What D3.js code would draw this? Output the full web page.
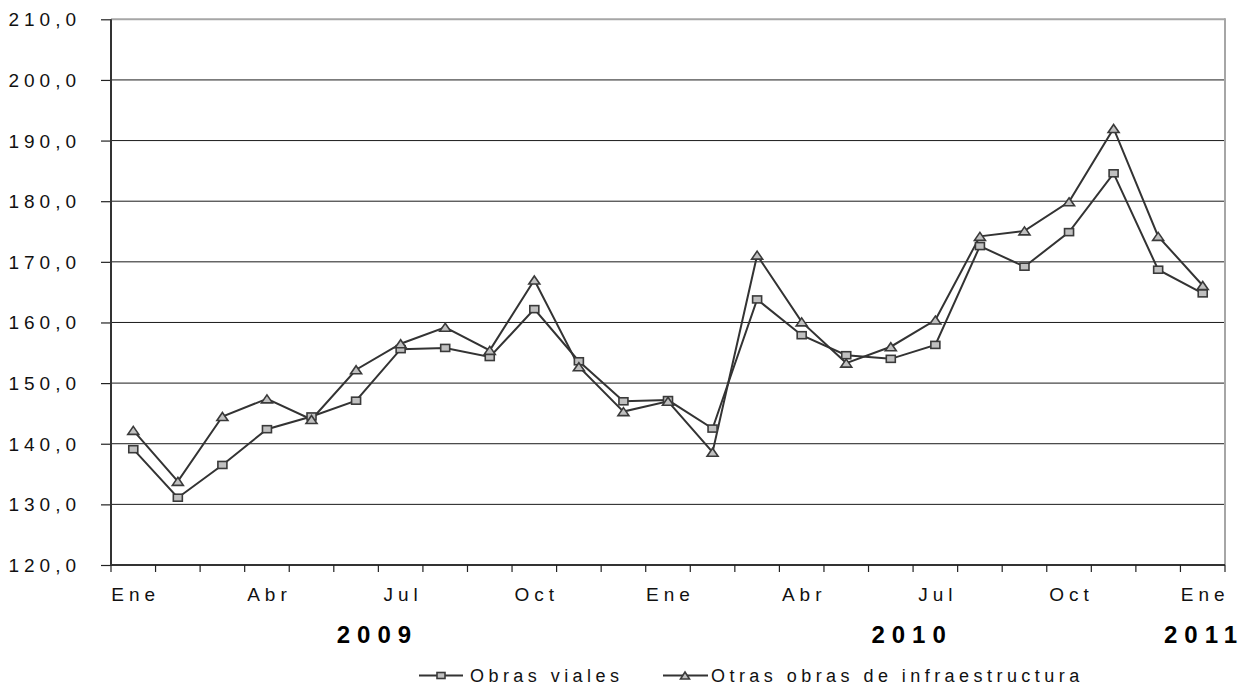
<!DOCTYPE html>
<html><head><meta charset="utf-8">
<script src="https://cdn.jsdelivr.net/npm/d3@7/dist/d3.min.js"></script>
<style>body{margin:0;background:#fff}svg{display:block;font-family:Arial,"Liberation Sans",sans-serif}</style>
</head><body><svg id="c" width="1247" height="689"></svg>
<script>
const months = ["Ene","Feb","Mar","Abr","May","Jun","Jul","Ago","Sep","Oct","Nov","Dic",
                "Ene","Feb","Mar","Abr","May","Jun","Jul","Ago","Sep","Oct","Nov","Dic","Ene"];
const obrasViales = [139.1,131.1,136.5,142.4,144.5,147.1,155.6,155.8,154.3,162.2,153.6,147.0,
                     147.2,142.5,163.8,157.9,154.6,154.0,156.3,172.6,169.2,174.9,184.6,168.7,164.8];
const otrasObras = [142.2,133.8,144.5,147.4,144.0,152.2,156.5,159.2,155.4,167.0,152.7,145.3,
                    147.0,138.6,171.1,160.1,153.3,156.0,160.4,174.2,175.1,179.9,192.0,174.2,166.1];
const yTicks = [120,130,140,150,160,170,180,190,200,210];
const years = [{label:"2009", pos:5.4},{label:"2010", pos:17.4},{label:"2011", pos:23.95}];
const seriesNames = ["Obras viales","Otras obras de infraestructura"];

const svg = d3.select("#c");
const L = 111, R = 1225, T = 19.3, B = 565;
const idx = d3.range(months.length);
const x = d3.scaleBand().domain(idx).range([L, R]);
const y = d3.scaleLinear().domain([120, 210]).range([B, T]);
const cx = i => L + (i + 0.5) * x.step();
const fmt = v => d3.format(".1f")(v).replace(".", ",");

// gridlines
svg.append("g").selectAll("line").data(yTicks.filter(v => v > 120 && v < 210)).join("line")
  .attr("x1", L).attr("x2", R).attr("y1", d => y(d)).attr("y2", d => y(d))
  .attr("stroke", "#1a1a1a").attr("stroke-width", 1);
// top and right border
svg.append("line").attr("x1", L).attr("x2", R).attr("y1", y(210)).attr("y2", y(210))
  .attr("stroke", "#a6a6a6").attr("stroke-width", 2);
svg.append("line").attr("x1", R).attr("x2", R).attr("y1", y(210)-1).attr("y2", B)
  .attr("stroke", "#a6a6a6").attr("stroke-width", 2);

// y axis
const yAxis = d3.axisLeft(y).tickValues(yTicks).tickSize(10).tickFormat("");
const gy = svg.append("g").attr("transform", `translate(${L},0)`).call(yAxis);
gy.select(".domain").remove();
gy.selectAll(".tick line").attr("stroke", "#222").attr("stroke-width", 1.2);
svg.append("line").attr("x1", L).attr("x2", L).attr("y1", T).attr("y2", B + 1)
  .attr("stroke", "#333").attr("stroke-width", 2);
const ls = 5;
svg.append("g").selectAll("text").data(yTicks).join("text")
  .attr("x", 76 + ls).attr("y", d => y(d) + 7)
  .attr("text-anchor", "end").attr("font-size", 19).attr("letter-spacing", ls)
  .attr("fill", "#111").text(d => fmt(d));

// x axis
svg.append("line").attr("x1", L).attr("x2", R).attr("y1", B).attr("y2", B)
  .attr("stroke", "#333").attr("stroke-width", 2);
const bounds = d3.range(months.length + 1).map(i => L + i * x.step());
svg.append("g").selectAll("line").data(bounds).join("line")
  .attr("x1", d => d).attr("x2", d => d).attr("y1", B).attr("y2", B + 7)
  .attr("stroke", "#222").attr("stroke-width", 1.2);
svg.append("g").selectAll("text").data(idx.filter(i => i % 3 === 0)).join("text")
  .attr("x", i => cx(i) + ls/2).attr("y", 601)
  .attr("text-anchor", "middle").attr("font-size", 19).attr("letter-spacing", ls)
  .attr("fill", "#111").text(i => months[i]);
svg.append("g").selectAll("text").data(years).join("text")
  .attr("x", d => cx(d.pos) + 3.5).attr("y", 643)
  .attr("text-anchor", "middle").attr("font-size", 24).attr("font-weight", "bold")
  .attr("letter-spacing", 7).attr("fill", "#000").text(d => d.label);

// lines
const line = d3.line().x((d, i) => cx(i)).y(d => y(d));
const lineColor = "#333";
[obrasViales, otrasObras].forEach(s => {
  svg.append("path").datum(s).attr("d", line).attr("fill", "none")
    .attr("stroke", lineColor).attr("stroke-width", 2);
});
const mFill = "#c0c0c0", mStroke = "#3a3a3a";
const square = (g, px, py, w, h) => g.append("rect").attr("x", px - w/2).attr("y", py - h/2)
  .attr("width", w).attr("height", h).attr("fill", mFill).attr("stroke", mStroke).attr("stroke-width", 1.6);
const tri = (g, px, py, w, h) => g.append("path")
  .attr("d", `M${px},${py-h/2}L${px+w/2},${py+h/2}L${px-w/2},${py+h/2}Z`)
  .attr("fill", mFill).attr("stroke", mStroke).attr("stroke-width", 1.6);
const gm = svg.append("g");
obrasViales.forEach((v, i) => square(gm, cx(i), y(v), 9, 7));
const gt = svg.append("g");
otrasObras.forEach((v, i) => tri(gt, cx(i), y(v), 11, 8));

// legend
const lg = svg.append("g");
const ly = 675.5;
const lls = 4.45;
lg.append("line").attr("x1", 419).attr("x2", 463).attr("y1", ly).attr("y2", ly).attr("stroke", lineColor).attr("stroke-width", 2);
square(lg, 441, ly, 8, 6);
lg.append("text").attr("x", 470).attr("y", ly + 6.5).attr("font-size", 18).attr("letter-spacing", lls)
  .attr("fill", "#111").text(seriesNames[0]);
lg.append("line").attr("x1", 663).attr("x2", 708).attr("y1", ly).attr("y2", ly).attr("stroke", lineColor).attr("stroke-width", 2);
tri(lg, 685, ly, 9, 7);
lg.append("text").attr("x", 711).attr("y", ly + 6.5).attr("font-size", 18).attr("letter-spacing", lls)
  .attr("fill", "#111").text(seriesNames[1]);
</script></body></html>
